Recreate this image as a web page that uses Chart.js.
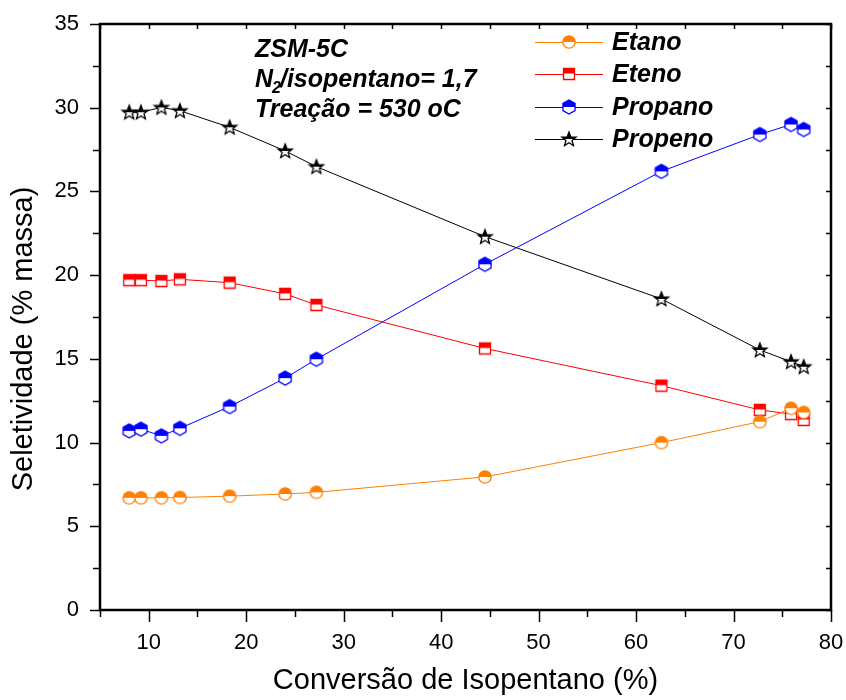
<!DOCTYPE html>
<html>
<head>
<meta charset="utf-8">
<script src="https://cdn.jsdelivr.net/npm/chart.js@4.4.0/dist/chart.umd.min.js"></script>
<style>
  html, body { margin: 0; padding: 0; background: #fff; }
</style>
</head>
<body>
<canvas id="chart" width="846" height="700"></canvas>
<script>
// dados
const conversao = [8.0, 9.2, 11.3, 13.2, 18.3, 24.0, 27.2, 44.5, 62.6, 72.7, 75.9, 77.2];
const etano    = [6.70, 6.70, 6.70, 6.72, 6.80, 6.93, 7.03, 7.95, 10.0, 11.25, 12.05, 11.8];
const eteno    = [19.70, 19.70, 19.65, 19.75, 19.55, 18.88, 18.22, 15.62, 13.40, 11.95, 11.70, 11.35];
const propano  = [10.70, 10.80, 10.40, 10.85, 12.15, 13.85, 14.98, 20.65, 26.20, 28.40, 29.00, 28.70];
const propeno  = [29.73, 29.73, 30.02, 29.82, 28.83, 27.42, 26.48, 22.30, 18.58, 15.53, 14.83, 14.53];

const seriesNames = ['Etano', 'Eteno', 'Propano', 'Propeno'];
const xTicks = [10, 20, 30, 40, 50, 60, 70, 80];
const yTicks = [0, 5, 10, 15, 20, 25, 30, 35];

const FONT = '"Liberation Sans", Arial, sans-serif';

// marcadores meio preenchidos
function makeMarker(shape, color) {
    const s = 20, m = s / 2;
    const c = document.createElement('canvas');
    c.width = s; c.height = s;
    const g = c.getContext('2d');
    const path = () => {
        g.beginPath();
        if (shape === 'circle') {
            g.arc(m, m, 6.2, 0, Math.PI * 2);
        } else if (shape === 'square') {
            g.rect(m - 5.5, m - 5.5, 11, 11);
        } else if (shape === 'hexagon') {
            for (let i = 0; i < 6; i++) {
                const a = (-90 + 60 * i) * Math.PI / 180;
                const px = m + 7 * Math.cos(a), py = m + 7 * Math.sin(a);
                i === 0 ? g.moveTo(px, py) : g.lineTo(px, py);
            }
        } else if (shape === 'star') {
            for (let i = 0; i < 10; i++) {
                const r = i % 2 === 0 ? 7.5 : 3.2;
                const a = (-90 + 36 * i) * Math.PI / 180;
                const px = m + r * Math.cos(a), py = m + 0.5 + r * Math.sin(a);
                i === 0 ? g.moveTo(px, py) : g.lineTo(px, py);
            }
        }
        g.closePath();
    };
    path();
    g.fillStyle = '#fff';
    g.fill();
    g.save();
    g.beginPath();
    g.rect(0, 0, s, shape === 'square' ? m - 0.5 : m);
    g.clip();
    path();
    g.fillStyle = color;
    g.fill();
    g.restore();
    path();
    g.strokeStyle = color;
    g.lineWidth = 1.3;
    g.stroke();
    return c;
}

const colors = ['#ff8000', '#ff0000', '#0000ff', '#000000'];
const markers = [
    makeMarker('circle', colors[0]),
    makeMarker('square', colors[1]),
    makeMarker('hexagon', colors[2]),
    makeMarker('star', colors[3]),
];
const values = [etano, eteno, propano, propeno];

const datasets = values.map((vals, i) => ({
    label: seriesNames[i],
    data: vals.map((v, k) => ({ x: conversao[k], y: v })),
    showLine: true,
    borderColor: colors[i],
    borderWidth: 1,
    tension: 0,
    pointStyle: markers[i],
    pointRadius: 7,
    pointHoverRadius: 7,
    clip: false,
}));

// moldura, ticks, legenda e anotação
const framePlugin = {
    id: 'frame',
    afterDraw(chart) {
        const { ctx, chartArea: a, scales: { x, y } } = chart;
        ctx.save();
        ctx.strokeStyle = '#000';
        ctx.lineWidth = 1.5;
        ctx.beginPath();
        for (let v = x.min; v <= x.max + 0.01; v += 5) {
            const px = Math.round(x.getPixelForValue(v)) + 0.5;
            const major = v % 10 === 0;
            ctx.moveTo(px, a.bottom);
            ctx.lineTo(px, a.bottom + (major ? 12 : 7));
            ctx.moveTo(px, a.top);
            ctx.lineTo(px, a.top + 5);
        }
        for (let v = y.min; v <= y.max + 0.01; v += 2.5) {
            const py = Math.round(y.getPixelForValue(v)) + 0.5;
            const major = v % 5 === 0;
            ctx.moveTo(a.left, py);
            ctx.lineTo(a.left - (major ? 10 : 7), py);
            ctx.moveTo(a.right, py);
            ctx.lineTo(a.right - 5, py);
        }
        ctx.stroke();
        ctx.lineWidth = 2.5;
        ctx.strokeRect(a.left, a.top, a.right - a.left, a.bottom - a.top);

        // título do eixo y
        ctx.save();
        ctx.translate(24, 339);
        ctx.rotate(-Math.PI / 2);
        ctx.font = '29px ' + FONT;
        ctx.fillStyle = '#000';
        ctx.textAlign = 'center';
        ctx.textBaseline = 'middle';
        ctx.fillText('Seletividade (% massa)', 0, 0);
        ctx.restore();

        // legenda
        const rows = [42, 74, 107, 139];
        ctx.font = 'italic bold 25px ' + FONT;
        ctx.textBaseline = 'middle';
        ctx.textAlign = 'left';
        seriesNames.forEach((name, i) => {
            const ly = rows[i];
            ctx.strokeStyle = colors[i];
            ctx.lineWidth = 1;
            ctx.beginPath();
            ctx.moveTo(535, ly + 0.5);
            ctx.lineTo(603, ly + 0.5);
            ctx.stroke();
            ctx.drawImage(markers[i], 569 - 10, ly - 10);
            ctx.fillStyle = '#000';
            ctx.fillText(name, 612, ly + 1);
        });

        // anotação
        ctx.textBaseline = 'alphabetic';
        ctx.fillStyle = '#000';
        ctx.font = 'italic bold 25px ' + FONT;
        ctx.fillText('ZSM-5C', 255, 57);
        ctx.fillText('N', 255, 87);
        let nx = 255 + ctx.measureText('N').width;
        ctx.font = 'italic bold 16px ' + FONT;
        ctx.fillText('2', nx - 1, 93);
        nx += ctx.measureText('2').width - 2;
        ctx.font = 'italic bold 25px ' + FONT;
        ctx.fillText('/isopentano= 1,7', nx, 87);
        ctx.fillText('Treação = 530 oC', 255, 117);
        ctx.restore();
    }
};

new Chart(document.getElementById('chart'), {
    type: 'scatter',
    data: { datasets },
    options: {
        responsive: false,
        animation: false,
        devicePixelRatio: 1,
        layout: { padding: { top: 24, right: 15, left: 0, bottom: 0 } },
        plugins: {
            legend: { display: false },
            tooltip: { enabled: false },
        },
        scales: {
            x: {
                type: 'linear',
                min: 5,
                max: 80,
                afterBuildTicks: (s) => { s.ticks = xTicks.map(v => ({ value: v })); },
                afterFit: (s) => { s.height = 90; s.paddingLeft = 0; s.paddingRight = 0; },
                grid: { display: false, drawTicks: true, tickLength: 8 },
                border: { display: false },
                ticks: { color: '#000', font: { family: FONT, size: 22 }, padding: 12, maxRotation: 0 },
                title: {
                    display: true,
                    text: 'Conversão de Isopentano (%)',
                    color: '#000',
                    font: { family: FONT, size: 29 },
                    padding: { top: 0, bottom: 2 },
                },
            },
            y: {
                type: 'linear',
                min: 0,
                max: 35,
                afterBuildTicks: (s) => { s.ticks = yTicks.map(v => ({ value: v })); },
                afterFit: (s) => { s.width = 100; s.paddingTop = 0; s.paddingBottom = 0; },
                grid: { display: false, drawTicks: true, tickLength: 8 },
                border: { display: false },
                ticks: { color: '#000', font: { family: FONT, size: 22 }, padding: 13 },
                title: { display: false },
            },
        },
    },
    plugins: [framePlugin],
});
</script>
</body>
</html>
